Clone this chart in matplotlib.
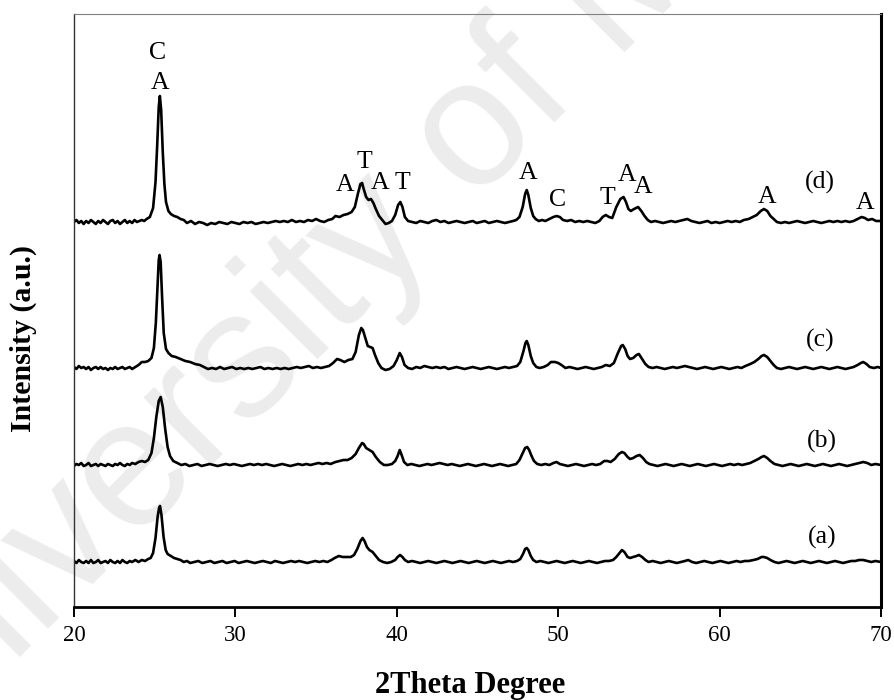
import numpy as np
import matplotlib
matplotlib.use("Agg")
import matplotlib.pyplot as plt

# ---------------- data (2theta, intensity above own baseline, a.u.) ----------------
trace_d = [
    (20.0, 0), (20.15, 2), (20.3, -1), (20.45, 1), (20.6, -2), (20.75, 1), (20.9, -1), (21.05, 2),
    (21.2, 0), (21.35, -2), (21.5, 1), (21.65, -1), (21.8, 2), (21.95, 0), (22.1, -2), (22.25, 1),
    (22.4, 2), (22.55, -1), (22.7, 1), (22.85, -2), (23.0, 0), (23.15, 2), (23.3, -1), (23.45, 1),
    (23.6, -1), (23.75, 2), (23.9, 0), (24.05, 1), (24.2, 2), (24.35, 1), (24.5, 3),
    (24.7, 5), (24.9, 14), (25.05, 40), (25.15, 75), (25.25, 115), (25.32, 126), (25.4, 112),
    (25.5, 70), (25.6, 38), (25.7, 20), (25.85, 11), (26.0, 8), (26.2, 6), (26.4, 5), (26.6, 3),
    (26.8, 2), (27.0, -1), (27.25, 1), (27.5, -2), (27.75, 0), (28.0, -1), (28.25, -3), (28.5, -1),
    (28.75, -2), (29.0, 0), (29.25, -1), (29.5, -2), (29.75, 0), (30.0, -1), (30.25, -2), (30.5, 0),
    (30.75, -1), (31.0, 0), (31.25, -2), (31.5, -1), (31.75, 0), (32.0, -1), (32.25, 0), (32.5, 1),
    (32.75, 0), (33.0, 1), (33.25, 0), (33.5, 2), (33.75, 0), (34.0, 1), (34.25, 0), (34.5, 2),
    (34.75, 1), (35.0, 3), (35.25, 1), (35.5, 0), (35.75, 2),
    (36.0, 3), (36.2, 6), (36.45, 5), (36.7, 7), (36.95, 8), (37.2, 10), (37.4, 15), (37.6, 29),
    (37.75, 38), (37.85, 39), (37.95, 33), (38.1, 25), (38.25, 22), (38.4, 23), (38.55, 19),
    (38.7, 13), (38.9, 6), (39.1, 2), (39.3, -2), (39.5, -1), (39.7, 1), (39.9, 7), (40.08, 17),
    (40.22, 20), (40.35, 15), (40.5, 5), (40.7, 1), (40.95, 0), (41.2, -1), (41.45, 1), (41.7, 0),
    (41.95, -1), (42.2, 1), (42.45, 2), (42.7, 0), (42.95, 1), (43.2, -1), (43.45, 0), (43.7, 1),
    (43.95, 0), (44.2, -1), (44.45, 0), (44.7, 1), (44.95, -1), (45.2, 0), (45.45, 1), (45.7, -1),
    (45.95, 0), (46.2, 1), (46.45, 0), (46.7, -1), (46.95, 0), (47.2, 1), (47.4, 2),
    (47.6, 5), (47.8, 15), (47.95, 28), (48.05, 32), (48.15, 27), (48.3, 14), (48.45, 6), (48.6, 3),
    (48.8, 1), (49.0, 2), (49.2, 1), (49.45, 3), (49.7, 5), (49.9, 6), (50.1, 5), (50.3, 2),
    (50.55, 1), (50.8, 2), (51.05, 0), (51.3, 1), (51.55, 0), (51.8, 1), (52.05, 0), (52.3, -1),
    (52.55, 1), (52.75, 5), (52.95, 7), (53.15, 5), (53.35, 4), (53.6, 15), (53.85, 23), (54.05, 25),
    (54.2, 20), (54.35, 13), (54.5, 11), (54.7, 13), (54.95, 15), (55.15, 11), (55.35, 6), (55.55, 2),
    (55.75, 0), (56.0, 1), (56.25, 0), (56.5, -1), (56.75, 0), (57.0, 1), (57.25, 0), (57.5, 1),
    (57.75, 2), (58.0, 3), (58.25, 1), (58.5, 0), (58.75, -1), (59.0, 0), (59.25, 1), (59.5, -1),
    (59.75, 0), (60.0, -1), (60.25, 0), (60.5, 1), (60.75, 0), (61.0, 1), (61.25, 0), (61.5, 2),
    (61.8, 3), (62.05, 5), (62.3, 7), (62.55, 11), (62.75, 13), (62.95, 11), (63.15, 6), (63.35, 3),
    (63.55, 0), (63.8, -1), (64.05, 0), (64.3, -1), (64.55, 0), (64.8, 1), (65.05, 0), (65.3, -1),
    (65.55, 0), (65.8, 1), (66.05, 0), (66.3, -1), (66.55, 0), (66.8, 1), (67.05, 0), (67.3, 1),
    (67.55, 0), (67.8, 1), (68.05, 0), (68.3, 1), (68.55, 3), (68.8, 5), (69.0, 4), (69.2, 2),
    (69.45, 3), (69.7, 1), (70.0, 1),
]

trace_c = [
    (20.0, 1), (20.15, -1), (20.3, 2), (20.45, 0), (20.6, 1), (20.75, -1), (20.9, 1), (21.05, -2),
    (21.2, 0), (21.35, 1), (21.5, -1), (21.65, 1), (21.8, -1), (21.95, 0), (22.1, -2), (22.25, 0),
    (22.4, -1), (22.55, 1), (22.7, -1), (22.85, 0), (23.0, 1), (23.15, -1), (23.3, 0), (23.45, 1),
    (23.6, -1), (23.8, 1), (24.0, 3), (24.2, 6), (24.4, 6), (24.6, 7), (24.8, 10), (24.95, 20),
    (25.07, 45), (25.17, 80), (25.25, 108), (25.3, 113), (25.37, 106), (25.46, 70), (25.56, 35),
    (25.7, 19), (25.85, 15), (26.05, 12), (26.3, 11), (26.6, 9), (26.9, 7), (27.2, 6), (27.5, 4),
    (27.8, 3), (28.05, 1), (28.3, -1), (28.55, 0), (28.8, -1), (29.05, 1), (29.3, -1), (29.55, 0),
    (29.8, 1), (30.05, -1), (30.3, 0), (30.55, -1), (30.8, 0), (31.05, -1), (31.3, 0), (31.55, 1),
    (31.8, -1), (32.05, 0), (32.3, -1), (32.55, 0), (32.8, -1), (33.05, 0), (33.3, -1), (33.55, 0),
    (33.8, 1), (34.05, 0), (34.3, 1), (34.55, 2), (34.8, 0), (35.05, 1), (35.3, 0), (35.55, 1),
    (35.8, 2), (36.05, 5), (36.3, 9), (36.5, 8), (36.75, 6), (37.0, 8), (37.25, 9), (37.45, 16),
    (37.65, 33), (37.8, 40), (37.9, 38), (38.05, 30), (38.2, 22), (38.35, 21), (38.5, 20),
    (38.65, 13), (38.85, 5), (39.05, 0), (39.3, -2), (39.55, -1), (39.8, 2), (40.0, 8), (40.18, 15),
    (40.32, 11), (40.48, 3), (40.7, 0), (40.95, -1), (41.2, 1), (41.45, 0), (41.7, 2), (41.95, 1),
    (42.2, 0), (42.45, 1), (42.7, 0), (42.95, 1), (43.2, -1), (43.45, 0), (43.7, 1), (43.95, 0),
    (44.2, -1), (44.45, 0), (44.7, 1), (44.95, 0), (45.2, -1), (45.45, 0), (45.7, 1), (45.95, 0),
    (46.2, -1), (46.45, 0), (46.7, 1), (46.95, 0), (47.2, 1), (47.45, 2), (47.65, 6), (47.85, 17),
    (47.97, 25), (48.05, 27), (48.15, 23), (48.3, 12), (48.45, 5), (48.65, 1), (48.85, 0), (49.1, 1),
    (49.35, 3), (49.55, 6), (49.8, 6), (50.0, 5), (50.2, 3), (50.45, 0), (50.7, 1), (50.95, 0),
    (51.2, -1), (51.45, 0), (51.7, 1), (51.95, 0), (52.2, -1), (52.45, 0), (52.7, 1), (52.95, 3),
    (53.2, 2), (53.45, 5), (53.7, 15), (53.9, 22), (54.0, 23), (54.15, 19), (54.3, 12), (54.45, 9),
    (54.65, 10), (54.85, 13), (55.0, 14), (55.2, 9), (55.4, 4), (55.6, 1), (55.85, 0), (56.1, 1),
    (56.35, 0), (56.6, -1), (56.85, 0), (57.1, 1), (57.35, 0), (57.6, 1), (57.85, 2), (58.1, 1),
    (58.35, 0), (58.6, -1), (58.85, 0), (59.1, 1), (59.35, 0), (59.6, -1), (59.85, 0), (60.1, 1),
    (60.35, 0), (60.6, -1), (60.85, 0), (61.1, 1), (61.35, 0), (61.6, 2), (61.9, 4), (62.15, 6),
    (62.4, 9), (62.6, 12), (62.75, 13), (62.95, 11), (63.15, 7), (63.35, 3), (63.55, 0), (63.8, -1),
    (64.05, 0), (64.3, 1), (64.55, 0), (64.8, -1), (65.05, 0), (65.3, 1), (65.55, 0), (65.8, -1),
    (66.05, 0), (66.3, 1), (66.55, 0), (66.8, -1), (67.05, 0), (67.3, 1), (67.55, 0), (67.8, -1),
    (68.05, 0), (68.3, 1), (68.55, 3), (68.75, 5), (68.9, 6), (69.1, 4), (69.3, 1), (69.55, 0),
    (69.8, 1), (70.0, 0),
]

trace_b = [
    (20.0, -1), (20.15, 1), (20.3, 0), (20.45, 2), (20.6, -1), (20.75, 0), (20.9, 2), (21.05, -1),
    (21.2, 0), (21.35, 1), (21.5, -1), (21.65, 1), (21.8, 0), (21.95, -1), (22.1, 1), (22.25, 0),
    (22.4, -1), (22.55, 1), (22.7, 0), (22.85, 2), (23.0, 0), (23.15, -1), (23.3, 1), (23.45, 0),
    (23.6, 2), (23.8, 1), (24.0, 3), (24.2, 4), (24.4, 3), (24.6, 5), (24.8, 12), (24.95, 27),
    (25.1, 48), (25.25, 64), (25.37, 68), (25.5, 58), (25.65, 36), (25.8, 18), (25.95, 9),
    (26.15, 4), (26.4, 2), (26.65, 0), (26.9, 1), (27.15, -1), (27.4, 0), (27.65, 1), (27.9, -1),
    (28.15, 0), (28.4, 1), (28.65, 0), (28.9, -1), (29.15, 0), (29.4, 1), (29.65, 0), (29.9, 1),
    (30.15, 0), (30.4, -1), (30.65, 0), (30.9, 1), (31.15, 0), (31.4, 1), (31.65, 0), (31.9, 1),
    (32.15, 0), (32.4, -1), (32.65, 0), (32.9, 1), (33.15, 0), (33.4, -1), (33.65, 0), (33.9, 1),
    (34.15, 0), (34.4, 1), (34.65, 0), (34.9, 1), (35.15, 2), (35.4, 1), (35.65, 2), (35.9, 1),
    (36.2, 3), (36.45, 4), (36.7, 5), (36.95, 5), (37.2, 7), (37.45, 11), (37.65, 17), (37.85, 22),
    (37.95, 21), (38.1, 17), (38.3, 15), (38.5, 13), (38.7, 8), (38.95, 3), (39.2, 0), (39.45, 0),
    (39.7, 1), (39.9, 4), (40.05, 9), (40.18, 15), (40.3, 10), (40.45, 3), (40.65, 0), (40.9, 1),
    (41.15, 0), (41.4, -1), (41.65, 0), (41.9, 1), (42.15, 0), (42.4, 1), (42.65, 2), (42.9, 1),
    (43.15, 0), (43.4, 1), (43.65, 0), (43.9, -1), (44.15, 0), (44.4, 1), (44.65, 0), (44.9, -1),
    (45.15, 0), (45.4, 1), (45.65, 0), (45.9, -1), (46.15, 0), (46.4, 1), (46.65, 0), (46.9, -1),
    (47.15, 0), (47.4, 1), (47.6, 5), (47.8, 12), (47.95, 17), (48.08, 18), (48.2, 15), (48.35, 9),
    (48.5, 4), (48.7, 1), (48.95, 0), (49.2, 1), (49.45, 0), (49.7, 2), (49.9, 3), (50.1, 1),
    (50.35, 0), (50.6, -1), (50.85, 0), (51.1, 1), (51.35, 0), (51.6, -1), (51.85, 0), (52.1, 1),
    (52.35, 0), (52.6, 1), (52.85, 4), (53.05, 4), (53.25, 3), (53.5, 6), (53.75, 11), (53.95, 13),
    (54.1, 12), (54.3, 8), (54.45, 6), (54.65, 7), (54.85, 9), (55.05, 10), (55.25, 7), (55.45, 3),
    (55.65, 1), (55.9, 0), (56.15, -1), (56.4, 0), (56.65, 1), (56.9, 0), (57.15, -1), (57.4, 0),
    (57.65, 1), (57.9, 0), (58.15, -1), (58.4, 0), (58.65, 1), (58.9, 0), (59.15, -1), (59.4, 0),
    (59.65, 1), (59.9, 0), (60.15, -1), (60.4, 0), (60.65, 1), (60.9, 0), (61.15, 1), (61.4, 0),
    (61.65, 1), (61.9, 2), (62.15, 4), (62.4, 6), (62.6, 8), (62.75, 9), (62.95, 7), (63.15, 4),
    (63.4, 1), (63.65, 0), (63.9, -1), (64.15, 0), (64.4, 1), (64.65, 0), (64.9, -1), (65.15, 0),
    (65.4, 1), (65.65, 0), (65.9, -1), (66.15, 0), (66.4, 1), (66.65, 0), (66.9, -1), (67.15, 0),
    (67.4, 1), (67.65, 0), (67.9, -1), (68.15, 0), (68.4, 1), (68.65, 2), (68.9, 3), (69.15, 2),
    (69.4, 0), (69.65, 1), (70.0, 0),
]

trace_a = [
    (20.0, 1), (20.15, -1), (20.3, 2), (20.45, 0), (20.6, -1), (20.75, 1), (20.9, -1), (21.05, 2),
    (21.2, -1), (21.35, 0), (21.5, 2), (21.65, -1), (21.8, 0), (21.95, 1), (22.1, -1), (22.25, 2),
    (22.4, 0), (22.55, -1), (22.7, 1), (22.85, -1), (23.0, 2), (23.15, 0), (23.3, -1), (23.45, 1),
    (23.6, 0), (23.8, 2), (24.0, 0), (24.2, 2), (24.4, 1), (24.6, 3), (24.75, 4), (24.9, 9),
    (25.05, 24), (25.18, 45), (25.27, 54), (25.33, 56), (25.42, 47), (25.55, 25), (25.68, 12),
    (25.8, 8), (26.0, 6), (26.2, 4), (26.4, 3), (26.6, 2), (26.8, 0), (27.0, 1), (27.2, -1),
    (27.45, 0), (27.7, 1), (27.95, -1), (28.2, 0), (28.45, 1), (28.7, -1), (28.95, 0), (29.2, 1),
    (29.45, -1), (29.7, 0), (29.95, 1), (30.2, -1), (30.45, 0), (30.7, 1), (30.95, 0), (31.2, -1),
    (31.45, 0), (31.7, 1), (31.95, 0), (32.2, -1), (32.45, 1), (32.7, 0), (32.95, -1), (33.2, 0),
    (33.45, 1), (33.7, 0), (33.95, 1), (34.2, 0), (34.45, -1), (34.7, 0), (34.95, 1), (35.2, 0),
    (35.45, 1), (35.7, 0), (35.95, 2), (36.15, 4), (36.4, 6), (36.65, 5), (36.9, 5), (37.15, 5),
    (37.35, 7), (37.55, 13), (37.75, 21), (37.88, 24), (38.0, 21), (38.15, 15), (38.3, 12),
    (38.5, 10), (38.7, 6), (38.9, 2), (39.15, 0), (39.4, -1), (39.65, 0), (39.9, 2), (40.05, 5),
    (40.2, 7), (40.35, 5), (40.5, 2), (40.7, 0), (40.95, 1), (41.2, 0), (41.45, -1), (41.7, 0),
    (41.95, 1), (42.2, 0), (42.45, -1), (42.7, 0), (42.95, 1), (43.2, 0), (43.45, -1), (43.7, 0),
    (43.95, 1), (44.2, 0), (44.45, -1), (44.7, 0), (44.95, 1), (45.2, 0), (45.45, -1), (45.7, 0),
    (45.95, 1), (46.2, 0), (46.45, -1), (46.7, 0), (46.95, 1), (47.2, 0), (47.45, 1), (47.65, 3),
    (47.82, 8), (47.95, 13), (48.05, 14), (48.15, 12), (48.3, 6), (48.45, 2), (48.65, 0), (48.9, 1),
    (49.15, 0), (49.4, -1), (49.65, 0), (49.9, 1), (50.15, 0), (50.4, -1), (50.65, 0), (50.9, 1),
    (51.15, 0), (51.4, -1), (51.65, 0), (51.9, 1), (52.15, 0), (52.4, -1), (52.65, 0), (52.9, 1),
    (53.15, 1), (53.4, 2), (53.6, 5), (53.8, 9), (53.95, 12), (54.1, 10), (54.3, 5), (54.45, 4),
    (54.65, 5), (54.85, 6), (55.0, 7), (55.2, 5), (55.4, 2), (55.6, 0), (55.85, 1), (56.1, 0),
    (56.35, -1), (56.6, 0), (56.85, 1), (57.1, 0), (57.35, -1), (57.6, 0), (57.85, 1), (58.05, 2),
    (58.3, 0), (58.55, -1), (58.8, 0), (59.05, 1), (59.3, 0), (59.55, -1), (59.8, 0), (60.05, 1),
    (60.3, 0), (60.55, -1), (60.8, 0), (61.05, 1), (61.3, 0), (61.55, 1), (61.8, 1), (62.1, 2),
    (62.35, 3), (62.6, 5), (62.75, 5), (62.95, 4), (63.15, 2), (63.4, 0), (63.65, -1), (63.9, 0),
    (64.15, 1), (64.4, 0), (64.65, -1), (64.9, 0), (65.15, 1), (65.4, 0), (65.65, -1), (65.9, 0),
    (66.15, 1), (66.4, 0), (66.65, -1), (66.9, 0), (67.15, 1), (67.4, 0), (67.65, -1), (67.9, 0),
    (68.15, 1), (68.4, 1), (68.65, 2), (68.9, 2), (69.15, 1), (69.4, 0), (69.65, 1), (70.0, 0),
]

sample_names = ["(a)", "(b)", "(c)", "(d)"]
sample_offsets = [45, 142, 239, 385]

# phase labels on trace (d): (2theta, height, letter)
phase_x = [25.2, 25.33, 36.79, 37.97, 38.96, 40.38, 48.13, 49.99, 53.02, 54.26, 55.25, 62.94, 69.01]
phase_y = [554, 524, 422, 445, 424, 424, 434, 407, 409, 432, 420, 410, 404]
phase_txt = ["C", "A", "A", "T", "A", "T", "A", "C", "T", "A", "A", "A", "A"]

name_x = [66.34, 66.34, 66.22, 66.22]
name_y = [70, 166, 267, 425]

xticks = [20, 30, 40, 50, 60, 70]

# ---------------- figure ----------------
W, H = 894, 700
fig = plt.figure(figsize=(W / 100, H / 100), dpi=100)
serif = ["Liberation Serif", "DejaVu Serif"]

# watermark (behind everything)
fig.text(418 / W, 1 - 192 / H, "University of Malaya", rotation=45, rotation_mode="anchor",
         ha="center", va="center", fontsize=130, color="#ececec",
         family=["Liberation Sans", "DejaVu Sans"], zorder=-10)

ax = fig.add_axes([74 / W, (H - 607) / H, 807 / W, 593 / H])
ax.patch.set_alpha(0)
ax.set_zorder(1)

for pts, off in zip([trace_a, trace_b, trace_c, trace_d], sample_offsets):
    arr = np.array(pts, dtype=float)
    ax.plot(arr[:, 0], arr[:, 1] + off, color="black", lw=1.9, solid_joinstyle="round")

for x, y, t in zip(phase_x, phase_y, phase_txt):
    ax.text(x, y, t, ha="center", va="center", fontsize=18.5, family=serif)
for x, y, t in zip(name_x, name_y, sample_names):
    ax.text(x, y, t, ha="center", va="center", fontsize=18.5, family=serif)

ax.set_xlim(20, 70)
ax.set_ylim(0, 593)
ax.set_xticks(xticks)
ax.set_xticklabels([str(v) for v in xticks], family=serif, fontsize=16.5)
ax.set_yticks([])
ax.tick_params(axis="x", direction="out", length=7, width=1.4, pad=6, color="black")

ax.spines["top"].set_color("#808080")
ax.spines["top"].set_linewidth(0.8)
ax.spines["left"].set_color("#333333")
ax.spines["left"].set_linewidth(1.0)
ax.spines["bottom"].set_linewidth(2.0)
ax.spines["right"].set_linewidth(2.2)

fig.text(470 / W, 1 - 685 / H, "2Theta Degree", ha="center", va="center",
         fontsize=22, fontweight="bold", family=serif)
fig.text(23 / W, 1 - 338 / H, "Intensity (a.u.)", ha="center", va="center",
         rotation=90, fontsize=21.5, fontweight="bold", family=serif)

fig.savefig("out.png", dpi=100)
